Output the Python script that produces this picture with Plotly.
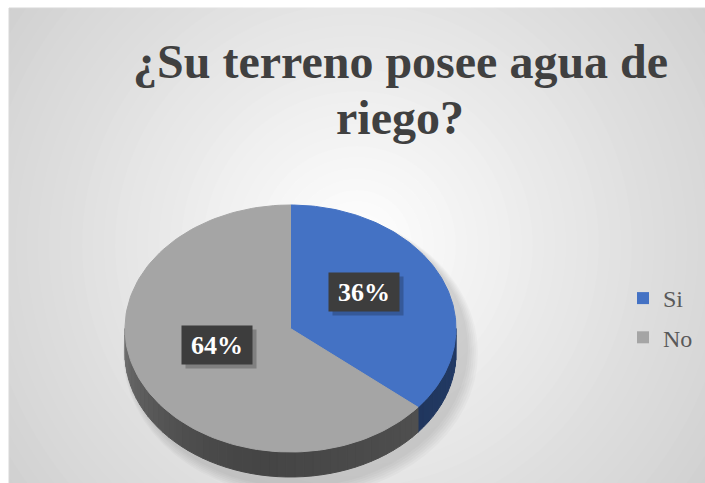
import numpy as np
import plotly.graph_objects as go

# ---- data ----
categories = ["Si", "No"]
values = [36, 64]
title_lines = ["¿Su terreno posee agua de", "riego?"]

# ---- styles / geometry ----
W, H = 705, 483
top_colors = ["#4472C4", "#A5A5A5"]
cx, cy, rx, ry, depth = 290.5, 328.5, 165.5, 123.5, 25
serif = "Liberation Serif, Times New Roman, serif"

def hex_rgb(h):
    h = h.lstrip("#")
    return [int(h[i:i + 2], 16) for i in (0, 2, 4)]

def shade(h, k):
    r, g, b = hex_rgb(h)
    return "rgb(%d,%d,%d)" % (r * k, g * k, b * k)

def side_k(theta):
    if theta <= 190:
        return 0.52 - 0.10 * (theta - 90) / 100.0
    return 0.42 + 0.26 * ((theta - 190) / 80.0) ** 1.5

def pt(theta_deg, dy=0.0):
    t = np.radians(theta_deg)
    return cx + rx * np.sin(t), cy - ry * np.cos(t) + dy

total = float(sum(values))
fracs = [v / total for v in values]
starts = np.cumsum([0.0] + fracs[:-1]) * 360.0
ends = starts + np.array(fracs) * 360.0

fig = go.Figure()

# ---- side walls (front half only) ----
for i, (a, b) in enumerate(zip(starts, ends)):
    lo, hi = max(a, 90.0), min(b, 270.0)
    if hi <= lo:
        continue
    n = max(2, int((hi - lo) / 3))
    edges = np.linspace(lo, hi, n + 1)
    for s0, s1 in zip(edges[:-1], edges[1:]):
        ts = np.linspace(s0, s1, 6)
        xt, yt = pt(ts)
        xb, yb = pt(ts[::-1], depth)
        xs = list(xt) + list(xb) + [xt[0]]
        ys = list(yt) + list(yb) + [yt[0]]
        col = shade(top_colors[i], side_k((s0 + s1) / 2))
        fig.add_trace(go.Scatter(x=xs, y=ys, mode="lines", fill="toself",
                                 fillcolor=col, line=dict(color=col, width=1),
                                 hoverinfo="skip", showlegend=False))

# ---- top faces ----
for i, (a, b) in enumerate(zip(starts, ends)):
    ts = np.linspace(a, b, 120)
    xa, ya = pt(ts)
    xs = [cx] + list(xa) + [cx]
    ys = [cy] + list(ya) + [cy]
    fig.add_trace(go.Scatter(x=xs, y=ys, mode="lines", fill="toself",
                             fillcolor=top_colors[i],
                             line=dict(color=top_colors[i], width=1),
                             hoverinfo="skip", showlegend=False))

# ---- legend entries ----
for i, name in enumerate(categories):
    fig.add_trace(go.Scatter(x=[None], y=[None], mode="markers", name=name,
                             legendgroup=name,
                             marker=dict(symbol="square", size=12,
                                         color=top_colors[i])))

# ---- background: chart area + radial gradient ----
shapes = [dict(type="rect", x0=9, y0=8, x1=W + 5, y1=H + 5,
               fillcolor="#cfcfcf", line=dict(color="#d6d6d6", width=1),
               layer="below")]
gx, gy, R = 357, 245, 440
N = 40
ds = np.linspace(1.0, 0.0, N + 1)[:-1]
T = lambda d: max(1e-3, d ** 1.6)
prevT = 1.0
for d in ds:
    t = T(d)
    alpha = 1 - t / prevT
    prevT = t
    r = R * d
    shapes.append(dict(type="circle", x0=gx - r, x1=gx + r, y0=gy - r, y1=gy + r,
                       fillcolor="white", opacity=min(1, max(0, alpha)),
                       line=dict(width=0), layer="below"))
# soft pie shadow
for k in range(6):
    e = 14 - 2 * k
    shapes.append(dict(type="circle", x0=cx - rx + 2 - e * 0.3, x1=cx + rx + 8 + e,
                       y0=cy - ry + 4, y1=cy + ry + depth + 6 + e,
                       fillcolor="black", opacity=0.025,
                       line=dict(width=0), layer="below"))

# ---- annotations ----
annotations = []
annotations.append(dict(x=400, y=61, text="<b>%s</b>" % title_lines[0],
                        showarrow=False, xanchor="center", yanchor="middle",
                        font=dict(family=serif, size=48, color="#404040")))
annotations.append(dict(x=400, y=117, text="<b>%s</b>" % title_lines[1],
                        showarrow=False, xanchor="center", yanchor="middle",
                        font=dict(family=serif, size=48, color="#404040")))

for i, (a, b) in enumerate(zip(starts, ends)):
    mid = np.radians((a + b) / 2)
    lx = cx + 0.49 * rx * np.sin(mid)
    ly = cy - 10 - 0.5 * ry * np.cos(mid)
    label = "%d%%" % round(values[i] / total * 100)
    annotations.append(dict(x=lx + 4, y=ly + 4, text=" ", showarrow=False,
                            width=70, height=38, borderpad=0,
                            bgcolor="rgba(0,0,0,0.22)"))
    annotations.append(dict(x=lx, y=ly, text="<b>%s</b>" % label, showarrow=False,
                            width=70, height=38, borderpad=0, bgcolor="#3d3d3d",
                            font=dict(family=serif, size=26, color="white")))

fig.update_layout(
    width=W, height=H, autosize=False,
    margin=dict(l=0, r=0, t=0, b=0),
    paper_bgcolor="white", plot_bgcolor="rgba(0,0,0,0)",
    xaxis=dict(range=[0, W], visible=False, fixedrange=True),
    yaxis=dict(range=[H, 0], visible=False, fixedrange=True),
    shapes=shapes, annotations=annotations,
    showlegend=True,
    legend=dict(x=623 / W, y=1 - 276 / H, xanchor="left", yanchor="top",
                bgcolor="rgba(0,0,0,0)", traceorder="grouped",
                tracegroupgap=5, itemwidth=30,
                font=dict(family=serif, size=24, color="#595959")),
)

fig.write_html("out.html")
